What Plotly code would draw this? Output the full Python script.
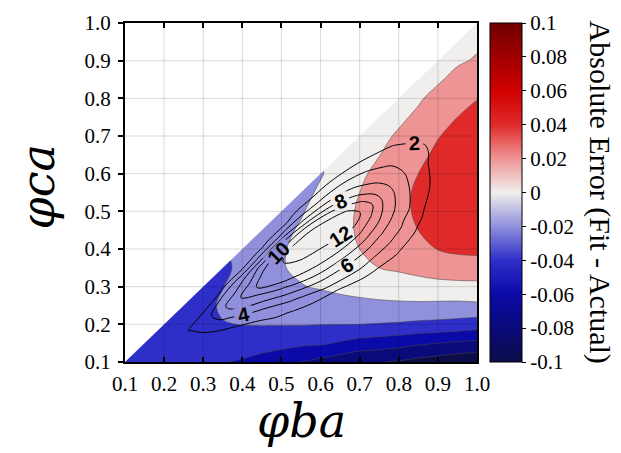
import plotly.graph_objects as go

# ---------------- data ----------------
# grid for the absolute error (phi_ba along x, phi_ca along y)
x_vals = [0.10, 0.15, 0.20, 0.25, 0.30, 0.35, 0.40, 0.45, 0.50, 0.55,
          0.60, 0.65, 0.70, 0.75, 0.80, 0.85, 0.90, 0.95, 1.00]
y_vals = list(x_vals)

# absolute error (fit - actual); one list per phi_ba column, from phi_ca = 0.1 up to the diagonal
abs_error_columns = [
    [-0.040],
    [-0.042, -0.040],
    [-0.043, -0.040, -0.040],
    [-0.044, -0.039, -0.036, -0.039],
    [-0.046, -0.038, -0.036, -0.036, -0.039],
    [-0.049, -0.038, -0.031, -0.027, -0.0305, -0.037],
    [-0.052, -0.040, -0.0295, -0.024, -0.021, -0.022, -0.027],
    [-0.056, -0.043, -0.029, -0.022, -0.018, -0.017, -0.018, -0.022],
    [-0.060, -0.045, -0.029, -0.020, -0.014, -0.011, -0.0115, -0.014, -0.018],
    [-0.070, -0.046, -0.029, -0.019, -0.0108, -0.007, -0.006, -0.008, -0.0115, -0.016],
    [-0.076, -0.047, -0.0295, -0.018, -0.0085, -0.004, -0.002, -0.002, -0.004, -0.007, -0.0115],
    [-0.082, -0.052, -0.0297, -0.016, -0.006, -0.0005, 0.003, 0.004, 0.003, 0.001, -0.002, -0.005],
    [-0.088, -0.057, -0.030, -0.0145, -0.004, 0.004, 0.010, 0.0125, 0.0125, 0.010, 0.0065, 0.003, 0.001],
    [-0.089, -0.060, -0.031, -0.014, -0.001, 0.010, 0.016, 0.019, 0.020, 0.019, 0.015, 0.0095, 0.006, 0.004],
    [-0.092, -0.063, -0.032, -0.0135, 0.001, 0.0125, 0.020, 0.0235, 0.0255, 0.0255, 0.0225, 0.018, 0.012, 0.007, 0.004],
    [-0.096, -0.067, -0.034, -0.0135, 0.003, 0.0155, 0.025, 0.030, 0.0325, 0.0325, 0.030, 0.025, 0.019, 0.013, 0.008, 0.005],
    [-0.100, -0.070, -0.035, -0.014, 0.004, 0.019, 0.0305, 0.036, 0.0385, 0.039, 0.0375, 0.034, 0.029, 0.022, 0.015, 0.008, 0.005],
    [-0.103, -0.073, -0.037, -0.0145, 0.0045, 0.021, 0.0335, 0.0395, 0.0425, 0.0435, 0.043, 0.0405, 0.036, 0.030, 0.023, 0.0145, 0.008, 0.005],
    [-0.105, -0.075, -0.040, -0.0135, 0.005, 0.0215, 0.0345, 0.041, 0.0445, 0.046, 0.046, 0.0445, 0.041, 0.0355, 0.0295, 0.021, 0.0115, 0.0075, 0.005],
]

# second quantity (black labelled contours), sampled on a grid aligned with its ridge:
# u = distance along the ridge, v = distance across it (positive towards the diagonal)
ridge_u = [-0.05, 0.00, 0.05, 0.10, 0.15, 0.20, 0.25, 0.30, 0.35, 0.40,
           0.45, 0.50, 0.55, 0.60, 0.65, 0.70, 0.75, 0.80]
ridge_v = [-0.16, -0.14, -0.12, -0.10, -0.08, -0.06, -0.04, -0.02, 0.00,
           0.02, 0.04, 0.06, 0.08, 0.10, 0.12, 0.14, 0.16]
ridge_origin = (0.267, 0.186)   # lower-left tip of the outer contour (phi_ba, phi_ca)
ridge_slope = 0.66              # slope of the ridge in the phi_ba / phi_ca plane

# one profile (across v) per u value
line_field_profiles = [
    [0, 0, 0, 0, 0.1, 0.3, 0.6, 0.9, 1.3, 0.9, 0.5, 0.2, 0.1, 0, 0, 0, 0],
    [0, 0, 0, 0.1, 0.3, 0.6, 1.0, 1.5, 2.1, 1.5, 0.9, 0.5, 0.2, 0.1, 0, 0, 0],
    [0, 0, 0.1, 0.3, 0.6, 1.3, 1.95, 3.0, 3.3, 1.9, 1.2, 0.7, 0.4, 0.2, 0.1, 0, 0],
    [0, 0, 0.1, 0.4, 1.0, 1.8, 3.0, 4.8, 5.6, 4.1, 1.2, 0.6, 0.3, 0.1, 0, 0, 0],
    [0, 0, 0.2, 0.9, 1.6, 2.9, 4.6, 6.9, 7.8, 5.9, 3.9, 0.5, 0.2, 0.1, 0, 0, 0],
    [0, 0, 0.8, 1.6, 2.8, 4.1, 6.1, 8.0, 9.9, 8.2, 6.1, 2.1, 0.4, 0.1, 0, 0, 0],
    [0, 0.6, 1.3, 2.2, 3.7, 5.6, 7.6, 10.0, 11.3, 11.2, 9.0, 4.6, 1.2, 0.3, 0, 0, 0],
    [0.3, 0.9, 1.6, 2.9, 4.7, 6.8, 9.0, 11.0, 11.8, 12.1, 11.0, 7.4, 3.0, 0.7, 0.1, 0, 0],
    [0.5, 1.0, 1.8, 3.9, 5.6, 7.7, 9.7, 11.2, 12.1, 12.8, 12.3, 9.6, 5.2, 1.7, 0.4, 0.1, 0],
    [0.6, 1.2, 2.2, 4.3, 5.8, 7.8, 9.8, 11.2, 12.2, 13.0, 13.0, 10.8, 6.4, 3.3, 1.3, 0.4, 0.1],
    [0.6, 1.3, 2.67, 4.41, 5.8, 7.55, 9.58, 11.1, 12.3, 13.0, 12.9, 10.8, 7.1, 4.13, 2.02, 0.9, 0.3],
    [0.6, 1.4, 2.37, 3.85, 5.29, 6.91, 8.76, 10.6, 12.2, 12.8, 12.5, 9.85, 7.06, 4.78, 2.63, 1.2, 0.4],
    [0.6, 1.3, 2.18, 3.35, 4.55, 5.76, 7.33, 8.86, 10.3, 11.6, 10.4, 8.3, 6.45, 4.8, 3.0, 1.4, 0.5],
    [0.4, 0.9, 1.5, 2.39, 3.5, 4.54, 5.51, 6.6, 7.4, 7.9, 7.5, 6.5, 5.35, 4.27, 2.89, 1.5, 0.6],
    [0.3, 0.6, 1.0, 1.5, 2.09, 2.5, 3.83, 4.4, 4.9, 5.25, 5.25, 4.9, 4.4, 3.43, 2.48, 1.4, 0.6],
    [0.2, 0.4, 0.6, 0.9, 1.3, 1.6, 2.02, 2.45, 2.85, 3.2, 3.5, 3.5, 3.3, 2.8, 2.1, 1.3, 0.6],
    [0.1, 0.2, 0.3, 0.5, 0.7, 0.9, 1.1, 1.35, 1.6, 1.85, 2.1, 2.35, 2.35, 1.95, 1.4, 0.9, 0.4],
    [0.1, 0.1, 0.2, 0.3, 0.4, 0.5, 0.6, 0.8, 0.9, 1.1, 1.3, 1.4, 1.5, 1.3, 1.0, 0.6, 0.3],
]

axis_ticks = [0.1, 0.2, 0.3, 0.4, 0.5, 0.6, 0.7, 0.8, 0.9, 1.0]
axis_tick_text = ["0.1", "0.2", "0.3", "0.4", "0.5", "0.6", "0.7", "0.8", "0.9", "1.0"]
cbar_ticks = [-0.1, -0.08, -0.06, -0.04, -0.02, 0, 0.02, 0.04, 0.06, 0.08, 0.1]
cbar_tick_text = ["-0.1", "-0.08", "-0.06", "-0.04", "-0.02", "0", "0.02", "0.04", "0.06", "0.08", "0.1"]

# ---------------- build ----------------
def to_grid(columns):
    z = []
    for j in range(len(y_vals)):
        row = []
        for i in range(len(x_vals)):
            col = columns[i]
            row.append(col[j] if j < len(col) else None)
        z.append(row)
    return z


z_err = to_grid(abs_error_columns)

norm = (1 + ridge_slope ** 2) ** 0.5
cs, sn = 1 / norm, ridge_slope / norm
car_x = [[ridge_origin[0] + u * cs - v * sn for u in ridge_u] for v in ridge_v]
car_y = [[ridge_origin[1] + u * sn + v * cs for u in ridge_u] for v in ridge_v]
z_line = [[line_field_profiles[i][j] for i in range(len(ridge_u))] for j in range(len(ridge_v))]

band_colors = [
    "rgb(12,12,75)", "rgb(10,10,122)", "rgb(10,10,168)", "rgb(46,46,200)",
    "rgb(144,144,220)", "rgb(240,239,237)", "rgb(238,148,148)", "rgb(224,42,42)",
    "rgb(208,0,0)", "rgb(160,0,0)", "rgb(112,0,0)",
]
scale = [[k / (len(band_colors) - 1), c] for k, c in enumerate(band_colors)]

serif = "Liberation Serif"
hidden_axis = dict(showgrid=False, showline=False, showticklabels="none",
                   startline=False, endline=False, minorgridcount=0)
x0, x1 = axis_ticks[0], axis_ticks[-1]

fig = go.Figure()
# filled error field (main subplot)
fig.add_trace(go.Contour(
    x=x_vals, y=y_vals, z=z_err,
    autocontour=False,
    contours=dict(start=-0.09, end=0.09, size=0.02, coloring="fill"),
    colorscale=scale,
    line=dict(color="rgba(70,70,70,0.9)", width=0.6, smoothing=1),
    showscale=False, hoverinfo="skip",
))
# labelled black contours on an overlaid subplot (drawn above the fill)
fig.add_trace(go.Carpet(
    carpet="ridge", a=ridge_u, b=ridge_v, x=car_x, y=car_y,
    aaxis=hidden_axis, baxis=hidden_axis, xaxis="x2", yaxis="y2",
))
fig.add_trace(go.Contourcarpet(
    carpet="ridge", a=ridge_u, b=ridge_v, z=z_line,
    autocontour=False, xaxis="x2", yaxis="y2",
    contours=dict(start=2, end=12, size=2, coloring="lines", showlabels=True,
                  labelfont=dict(family="Liberation Sans", size=20, color="black", weight="bold")),
    colorscale=[[0, "black"], [1, "black"]],
    line=dict(color="black", width=1, smoothing=1.1),
    showscale=False,
))
# white mask above the diagonal (outside the data domain)
fig.add_trace(go.Scatter(
    x=[x0, x1, x0, x0], y=[x0, x1, x1, x0], xaxis="x2", yaxis="y2",
    mode="lines", fill="toself", fillcolor="white",
    line=dict(width=0, color="white"), hoverinfo="skip", showlegend=False,
))
# continuous colour bar
fig.add_trace(go.Scatter(
    x=[x0], y=[x0], mode="markers",
    marker=dict(size=1, opacity=0, color=[0], cmin=-0.1, cmax=0.1,
                colorscale=scale, showscale=True,
                colorbar=dict(
                    x=1.037, xanchor="left", xpad=0, ypad=0,
                    y=0.5, yanchor="middle", len=1, lenmode="fraction",
                    thickness=32, thicknessmode="pixels",
                    outlinewidth=1, outlinecolor="black",
                    ticks="outside", ticklen=4, tickcolor="black",
                    tickvals=cbar_ticks, ticktext=cbar_tick_text,
                    tickfont=dict(family=serif, size=21, color="black"),
                )),
    hoverinfo="skip", showlegend=False,
))

shapes = []
for t in axis_ticks[1:-1]:
    shapes.append(dict(type="line", xref="x", yref="y", x0=t, x1=t, y0=x0, y1=x1,
                       line=dict(color="rgba(0,0,0,0.15)", width=1), layer="above"))
    shapes.append(dict(type="line", xref="x", yref="y", x0=x0, x1=x1, y0=t, y1=t,
                       line=dict(color="rgba(0,0,0,0.15)", width=1), layer="above"))

axis_common = dict(
    range=[x0, x1], tickvals=axis_ticks, ticktext=axis_tick_text,
    showgrid=False, zeroline=False, showline=True, linecolor="black", linewidth=2,
    ticklen=5, tickwidth=1.5, tickcolor="black",
    tickfont=dict(family=serif, size=21, color="black"),
)

fig.update_layout(
    width=621, height=453,
    margin=dict(l=125, r=144, t=11, b=91),
    paper_bgcolor="white", plot_bgcolor="white",
    showlegend=False,
    xaxis=dict(axis_common, ticks="inside", mirror="allticks", ticklabelstandoff=2),
    yaxis=dict(axis_common, ticks="outside", mirror=True, ticklabelstandoff=3),
    xaxis2=dict(overlaying="x", anchor="y2", range=[x0, x1], visible=False),
    yaxis2=dict(overlaying="y", anchor="x2", range=[x0, x1], visible=False),
    shapes=shapes,
    annotations=[
        dict(text="φba", xref="paper", yref="paper", x=0.5, y=-0.175,
             xanchor="center", yanchor="middle", showarrow=False,
             font=dict(family="DejaVu Serif", size=46, style="italic", color="black")),
        dict(text="φca", xref="paper", yref="paper", x=-0.247, y=0.515,
             xanchor="center", yanchor="middle", showarrow=False, textangle=-90,
             font=dict(family="DejaVu Serif", size=46, style="italic", color="black")),
        dict(text="Absolute Error (Fit - Actual)", xref="paper", yref="paper",
             x=1.352, y=0.5, xanchor="center", yanchor="middle", showarrow=False,
             textangle=90, font=dict(family=serif, size=30, color="black")),
    ],
)

fig.write_html("out.html")
